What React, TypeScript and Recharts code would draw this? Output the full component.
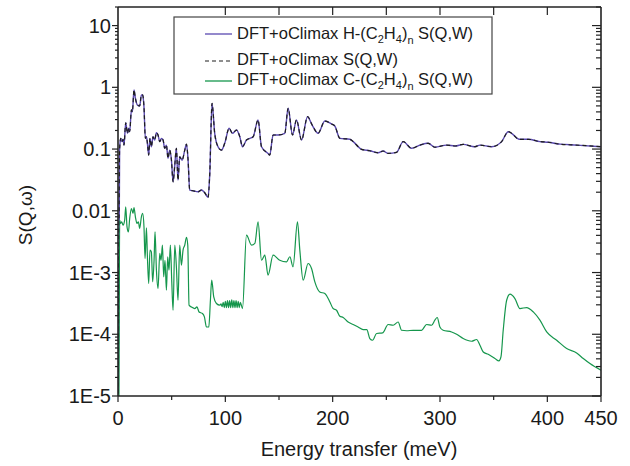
import React from 'react';
import { LineChart, Line, XAxis, YAxis } from 'recharts';

// Energy transfer (meV) and S(Q,w)
const hEnergy = [0.3, 1.5, 2.5, 3.7, 4.7, 5.6, 7.2, 8.8, 10.0, 10.9, 12.5, 13.4, 14.9, 16.2, 18.1, 20.2, 21.8, 23.0, 24.2, 25.5, 26.5, 27.4, 28.6, 29.8, 31.1, 32.6, 34.2, 35.8, 37.3, 38.9, 40.5, 42.0, 43.5, 45.1, 46.6, 48.2, 49.8, 51.3, 52.9, 54.4, 55.9, 57.5, 59.7, 62.2, 63.8, 65.3, 66.8, 69.9, 74.6, 77.7, 80.8, 83.9, 85.5, 87.6, 90.1, 93.2, 96.4, 99.5, 103.5, 106.6, 110.4, 113.5, 116.0, 119.7, 125.9, 130.5, 133.7, 139.8, 141.4, 144.5, 149.2, 155.4, 158.5, 162.6, 166.3, 171.0, 176.6, 180.9, 186.4, 192.7, 198.9, 202.0, 206.7, 216.0, 219.1, 226.9, 234.6, 242.4, 247.0, 251.7, 259.5, 265.7, 273.5, 281.3, 289.0, 295.2, 306.1, 313.9, 321.6, 332.5, 337.2, 348.1, 357.4, 363.6, 366.7, 373.8, 382.2, 393.1, 400.9, 411.8, 427.3, 450];
const hS = [0.000011, 0.1, 0.149, 0.132, 0.144, 0.116, 0.267, 0.18, 0.217, 0.191, 0.43, 0.40, 0.906, 0.664, 0.518, 0.499, 0.752, 0.752, 0.485, 0.149, 0.158, 0.124, 0.080, 0.149, 0.109, 0.158, 0.140, 0.184, 0.169, 0.132, 0.149, 0.140, 0.103, 0.116, 0.071, 0.096, 0.066, 0.0295, 0.055, 0.103, 0.0315, 0.075, 0.066, 0.096, 0.12, 0.066, 0.0217, 0.0211, 0.0203, 0.0217, 0.0196, 0.0165, 0.040, 0.55, 0.18, 0.109, 0.096, 0.125, 0.217, 0.18, 0.203, 0.158, 0.109, 0.140, 0.158, 0.296, 0.109, 0.085, 0.080, 0.169, 0.169, 0.180, 0.457, 0.169, 0.296, 0.140, 0.334, 0.245, 0.18, 0.284, 0.255, 0.236, 0.149, 0.144, 0.132, 0.099, 0.094, 0.087, 0.093, 0.085, 0.0885, 0.132, 0.103, 0.116, 0.124, 0.107, 0.116, 0.112, 0.119, 0.109, 0.116, 0.109, 0.132, 0.191, 0.18, 0.144, 0.144, 0.132, 0.129, 0.12, 0.116, 0.109];
// total S(Q,W) coincides with the H curve in the picture
const totalEnergy = hEnergy;
const totalS = hS;

const cEnergy = [0.9, 1.6, 2.2, 3.4, 4.7, 6.2, 7.2, 8.4, 9.7, 10.9, 12.5, 14.0, 14.9, 16.2, 17.7, 19.0, 20.2, 21.8, 23.0, 24.2, 25.2, 26.5, 27.4, 28.6, 29.8, 31.1, 32.3, 33.6, 34.5, 35.8, 37.3, 38.9, 40.1, 41.4, 42.6, 43.8, 45.1, 46.3, 47.5, 48.8, 50.1, 51.3, 52.9, 54.4, 55.9, 57.5, 59.1, 60.6, 62.2, 63.8, 65.0, 66.2, 68.4, 71.5, 73.6, 75.5, 78.7, 80.5, 82.4, 84.6, 86.1, 87.3, 89.2, 91.7, 94.8, 96, 97, 98, 99, 100, 101, 102, 103, 104, 105, 106, 107, 108, 109, 110, 111, 112, 113, 114, 116.0, 119.7, 124.4, 127.5, 130.5, 133.7, 136.8, 139.8, 144.5, 150.7, 157.0, 160.1, 163.1, 167.2, 169.4, 172.5, 177.1, 180.3, 183.4, 188.0, 192.7, 197.4, 200.4, 203.6, 206.7, 209.8, 214.4, 219.1, 223.7, 228.4, 231.8, 234.6, 237.2, 240.9, 246.5, 251.7, 256.4, 261.0, 264.2, 268.9, 275.0, 282.8, 287.5, 292.2, 295.2, 297.4, 299.9, 302.9, 310.8, 315.5, 321.6, 329.5, 334.1, 337.2, 340.3, 344.9, 351.2, 354.9, 356.8, 358.9, 362.1, 365.2, 369.8, 374.5, 380.7, 386.9, 393.1, 399.4, 408.7, 418.0, 427.3, 433.5, 439.7, 450];
const cS = [0.00001, 0.00706, 0.00625, 0.00662, 0.00586, 0.00706, 0.0116, 0.0055, 0.00456, 0.00753, 0.0109, 0.00908, 0.0113, 0.0080, 0.00625, 0.00662, 0.00518, 0.0080, 0.00908, 0.0055, 0.00169, 0.0053, 0.0018, 0.000665, 0.00231, 0.00216, 0.000706, 0.00158, 0.00456, 0.00109, 0.000552, 0.00204, 0.00158, 0.00278, 0.00085, 0.00158, 0.000518, 0.0018, 0.00109, 0.00278, 0.000706, 0.000245, 0.00278, 0.00124, 0.000356, 0.00278, 0.00132, 0.00231, 0.00278, 0.0037, 0.00278, 0.000296, 0.000277, 0.000261, 0.000277, 0.00023, 0.000217, 0.000191, 0.000131, 0.000131, 0.000356, 0.000752, 0.000403, 0.000315, 0.000296, 0.00031, 0.00028, 0.00033, 0.00027, 0.00034, 0.00027, 0.00035, 0.00027, 0.00035, 0.00027, 0.00036, 0.00027, 0.00035, 0.00027, 0.00035, 0.00027, 0.00034, 0.00027, 0.00033, 0.000261, 0.00404, 0.00278, 0.00296, 0.0066, 0.00158, 0.00191, 0.000906, 0.00191, 0.00158, 0.00149, 0.0018, 0.00124, 0.0066, 0.00231, 0.000752, 0.0014, 0.00116, 0.000706, 0.000485, 0.000457, 0.000334, 0.000261, 0.000245, 0.000196, 0.000187, 0.000158, 0.000144, 0.000131, 0.000119, 0.000119, 0.0000853, 0.00008, 0.000103, 0.000105, 0.000144, 0.00014, 0.000158, 0.000116, 0.000114, 0.000116, 0.000116, 0.000144, 0.00014, 0.000169, 0.000187, 0.000131, 0.000116, 0.000109, 0.0001, 0.0000853, 0.0000771, 0.0000822, 0.0000664, 0.0000517, 0.0000474, 0.0000404, 0.000037, 0.0000429, 0.000116, 0.000356, 0.000446, 0.000379, 0.000261, 0.000271, 0.00023, 0.000169, 0.000109, 0.00008, 0.0000587, 0.0000498, 0.0000404, 0.0000335, 0.0000261];

const xTicks = [0, 50, 100, 150, 200, 250, 300, 350, 400, 450];
const xLabelled = [0, 100, 200, 300, 400, 450];
const topTicks = [100, 150, 200, 250, 300, 350, 400];
const yMajor = [0.00001, 0.0001, 0.001, 0.01, 0.1, 1, 10];
const yMinorFactors = [2, 3, 4, 5, 6, 7, 8, 9];
const yTicks = [...yMajor, ...yMajor.flatMap((d) => yMinorFactors.map((k) => k * d)).filter((v) => v <= 20)];

const seriesNames = ['DFT+oClimax H-(C2H4)n S(Q,W)', 'DFT+oClimax S(Q,W)', 'DFT+oClimax C-(C2H4)n S(Q,W)'];
const colors = { h: '#5a49b0', total: '#1e1e1e', c: '#15964c' };

const toData = (xs: number[], ys: number[]) => xs.map((e, i) => ({ e, s: ys[i] }));
const hData = toData(hEnergy, hS);
const totalData = toData(totalEnergy, totalS);
const cData = toData(cEnergy, cS);

const FONT = '"Liberation Sans", Arial, sans-serif';
const AX = '#222';
const isMajor = (v: number) => Math.abs(Math.log10(v) - Math.round(Math.log10(v))) < 1e-6;
const fmtY = (v: number) => {
  const e = Math.round(Math.log10(v));
  return e >= -2 ? String(v) : `1E${e}`;
};

const LeftTick = (p: any) => {
  const { x, y, payload } = p;
  const m = isMajor(payload.value);
  return (
    <g>
      <line x1={x - (m ? 6 : 3)} x2={x} y1={y} y2={y} stroke={AX} strokeWidth={1.2} />
      {m && (
        <text x={x - 7} y={y + 7} textAnchor="end" fontSize={20} fontFamily={FONT} fill="#1a1a1a">
          {fmtY(payload.value)}
        </text>
      )}
    </g>
  );
};
const RightTick = (p: any) => {
  const { x, y, payload } = p;
  const m = isMajor(payload.value);
  return <line x1={x} x2={x - (m ? 9 : 5)} y1={y} y2={y} stroke={AX} strokeWidth={1.2} />;
};
const BottomTick = (p: any) => {
  const { x, y, payload } = p;
  const lab = xLabelled.includes(payload.value);
  return (
    <g>
      <line x1={x} x2={x} y1={y} y2={y + (lab ? 6 : 4)} stroke={AX} strokeWidth={1.2} />
      {lab && (
        <text x={x} y={y + 29} textAnchor="middle" fontSize={20} fontFamily={FONT} fill="#1a1a1a">
          {payload.value}
        </text>
      )}
    </g>
  );
};
const TopTick = (p: any) => {
  const { x, y } = p;
  return <line x1={x} x2={x} y1={y} y2={y + 8} stroke={AX} strokeWidth={1.2} />;
};

const Sub = ({ t, d }: { t: string; d: number }) => (
  <>
    <tspan fontSize={11} dy={d}>{t}</tspan>
  </>
);

const LegendLabel = ({ x, y, kind, name }: { x: number; y: number; kind: 'H' | 'C' | null; name: string }) => {
  if (!kind) {
    return (
      <text x={x} y={y} fontSize={16.5} fontFamily={FONT} fill="#1a1a1a">{name}</text>
    );
  }
  return (
    <text x={x} y={y} fontSize={16.5} fontFamily={FONT} fill="#1a1a1a" style={{ whiteSpace: 'pre' }}>
      <tspan>{`DFT+oClimax ${kind}-(C`}</tspan>
      <Sub t="2" d={4} />
      <tspan dy={-4}>H</tspan>
      <Sub t="4" d={4} />
      <tspan dy={-4}>)</tspan>
      <Sub t="n" d={5} />
      <tspan dy={-5}>{' S(Q,W)'}</tspan>
    </text>
  );
};

export default function App() {
  return (
    <div style={{ position: 'absolute', left: 0, top: 0, width: 630, height: 466, background: '#fff' }}>
      <LineChart width={630} height={466} margin={{ top: 0, right: 0, bottom: 20, left: 0 }}>
        <XAxis
          xAxisId={0}
          dataKey="e"
          type="number"
          domain={[0, 450]}
          ticks={xTicks}
          interval={0}
          allowDataOverflow
          height={50}
          tickSize={0}
          tickMargin={0}
          tickLine={false}
          axisLine={{ stroke: AX, strokeWidth: 1.6 }}
          tick={<BottomTick />}
          label={{
            value: 'Energy transfer (meV)',
            content: () => (
              <text x={359} y={456} textAnchor="middle" fontSize={20} fontFamily={FONT} fill="#1a1a1a">
                Energy transfer (meV)
              </text>
            ),
          }}
        />
        <XAxis
          xAxisId="top"
          orientation="top"
          dataKey="e"
          type="number"
          domain={[0, 450]}
          ticks={topTicks}
          interval={0}
          allowDataOverflow
          height={7}
          tickSize={0}
          tickMargin={0}
          tickLine={false}
          axisLine={{ stroke: AX, strokeWidth: 1.6 }}
          tick={<TopTick />}
        />
        <YAxis
          yAxisId={0}
          type="number"
          scale="log"
          domain={[0.00001, 20]}
          allowDataOverflow
          ticks={yTicks}
          interval={0}
          width={118}
          tickSize={0}
          tickMargin={0}
          tickLine={false}
          axisLine={{ stroke: AX, strokeWidth: 1.6 }}
          tick={<LeftTick />}
          label={{
            value: 'S(Q,ω)',
            content: () => (
              <text x={32} y={215} transform="rotate(-90 32 215)" textAnchor="middle" fontSize={19} fontFamily={FONT} fill="#1a1a1a">
                S(Q,ω)
              </text>
            ),
          }}
        />
        <YAxis
          yAxisId="right"
          orientation="right"
          type="number"
          scale="log"
          domain={[0.00001, 20]}
          allowDataOverflow
          ticks={yTicks}
          interval={0}
          width={29}
          tickSize={0}
          tickMargin={0}
          tickLine={false}
          axisLine={{ stroke: AX, strokeWidth: 1.6 }}
          tick={<RightTick />}
        />
        <Line data={hData} dataKey="s" name={seriesNames[0]} type="monotoneX" stroke={colors.h} strokeWidth={1.4} dot={false} isAnimationActive={false} />
        <Line data={totalData} dataKey="s" name={seriesNames[1]} type="monotoneX" stroke={colors.total} strokeWidth={1.2} strokeDasharray="4 3" dot={false} isAnimationActive={false} />
        <Line data={cData} dataKey="s" name={seriesNames[2]} type="monotoneX" stroke={colors.c} strokeWidth={1.2} dot={false} isAnimationActive={false} />
      </LineChart>
      <svg width={630} height={466} style={{ position: 'absolute', left: 0, top: 0, pointerEvents: 'none' }}>
        <rect x={174} y={17} width={318} height={77} fill="#fff" stroke="#444" strokeWidth={1.2} />
        <line x1={205} x2={232} y1={34} y2={34} stroke={colors.h} strokeWidth={1.3} />
        <line x1={205} x2={232} y1={61} y2={61} stroke={colors.total} strokeWidth={1.2} strokeDasharray="4 3" />
        <line x1={205} x2={232} y1={81} y2={81} stroke={colors.c} strokeWidth={1.3} />
        <LegendLabel x={237} y={38.5} kind="H" name={seriesNames[0]} />
        <LegendLabel x={237} y={65} kind={null} name={seriesNames[1]} />
        <LegendLabel x={237} y={85} kind="C" name={seriesNames[2]} />
      </svg>
    </div>
  );
}
